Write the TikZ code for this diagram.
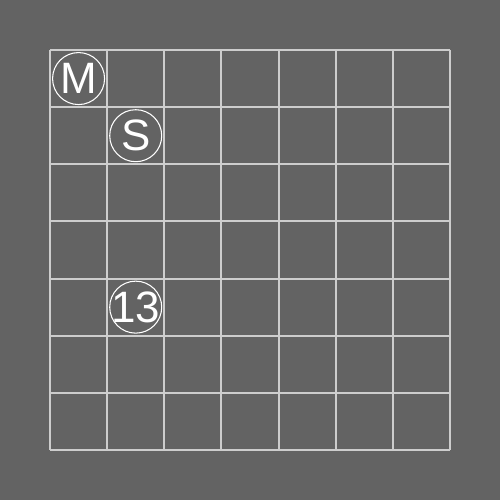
\documentclass[tikz,border=0pt]{standalone}
\usepackage{fontspec}
\setmainfont{Liberation Sans}
\usepackage{tikz}
\usetikzlibrary{positioning}
\definecolor{boardgray}{RGB}{99,99,99}
\definecolor{gridline}{RGB}{205,205,205}

\begin{document}
\begin{tikzpicture}[
  x=8cm/7, y=-8cm/7,
  every node/.style={font=\fontsize{25}{25}\selectfont},
  every label/.style={text=white, inner sep=0pt},
  piece/.style={circle, draw=white, line width=0.6pt,
                minimum size=1.04cm, inner sep=0pt, label=center:#1}
]
  \fill[boardgray] (-7/8,-7/8) rectangle (7+7/8,7+7/8);
  \useasboundingbox (-7/8,-7/8) rectangle (7+7/8,7+7/8);

  % board
  \foreach \i in {0,...,7} {
    \draw[gridline, line width=1.1pt] (\i,0) -- (\i,7);
    \draw[gridline, line width=1.1pt] (0,\i) -- (7,\i);
  }

  % pieces
  \node[piece=M]  (m)   at (0.5,0.5) {};
  \node[piece=S]  (s)   at (1.5,1.5) {};
  \node[piece=13] (p13) at (1.5,4.5) {};
\end{tikzpicture}
\end{document}
